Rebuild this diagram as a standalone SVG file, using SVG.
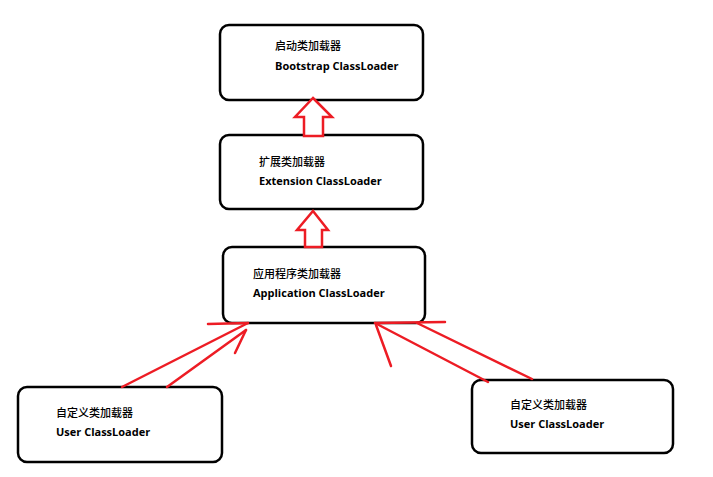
<svg xmlns="http://www.w3.org/2000/svg" width="713" height="477" viewBox="0 0 713 477">
<style>
.box{fill:#fff;stroke:#000;stroke-width:2.5}
.zh{font-family:"Noto Sans CJK SC",sans-serif;font-size:11px;font-weight:500;fill:#000}
.en{font-family:"Open Sans","Liberation Sans",sans-serif;font-size:11px;font-weight:bold;fill:#000}
.hol{fill:#fff;stroke:#ed1c24;stroke-width:2.5;stroke-linejoin:miter}
.red{stroke:#ed1c24;stroke-width:2.5;fill:none;stroke-linecap:round}
</style>
<rect width="713" height="477" fill="#fff"/>
<g id="bootstrap">
<rect class="box" x="220" y="25" width="203" height="75" rx="9"/>
<text class="zh" x="275" y="50">启动类加载器</text>
<text class="en" x="275" y="70">Bootstrap ClassLoader</text>
</g>
<g id="extension">
<rect class="box" x="220" y="135" width="203" height="74" rx="9"/>
<text class="zh" x="259" y="166">扩展类加载器</text>
<text class="en" x="259" y="185">Extension ClassLoader</text>
</g>
<g id="application">
<rect class="box" x="223" y="247" width="202" height="76" rx="9"/>
<text class="zh" x="253" y="278">应用程序类加载器</text>
<text class="en" x="253" y="297">Application ClassLoader</text>
</g>
<g id="user1">
<rect class="box" x="18" y="387" width="204" height="75" rx="9"/>
<text class="zh" x="56" y="417">自定义类加载器</text>
<text class="en" x="56" y="436">User ClassLoader</text>
</g>
<g id="user2">
<rect class="box" x="472" y="380" width="201" height="73" rx="9"/>
<text class="zh" x="510" y="409">自定义类加载器</text>
<text class="en" x="510" y="428">User ClassLoader</text>
</g>
<g id="connectors">
<polygon class="hol" points="313,98 332,117 323,117 323,136 304,136 304,117 295,117"/>
<polygon class="hol" points="313,211 328,230 322,230 322,247 305,247 305,230 297,230"/>
<line class="red" x1="208" y1="324" x2="248" y2="323"/>
<line class="red" x1="122" y1="387" x2="248" y2="323"/>
<line class="red" x1="167" y1="387" x2="246" y2="330"/>
<line class="red" x1="235" y1="353" x2="246" y2="330"/>
<line class="red" x1="375" y1="323" x2="445" y2="322"/>
<line class="red" x1="375" y1="323" x2="488" y2="382"/>
<line class="red" x1="417" y1="323" x2="532" y2="379"/>
<line class="red" x1="376" y1="325" x2="391" y2="366"/>
</g>
</svg>
